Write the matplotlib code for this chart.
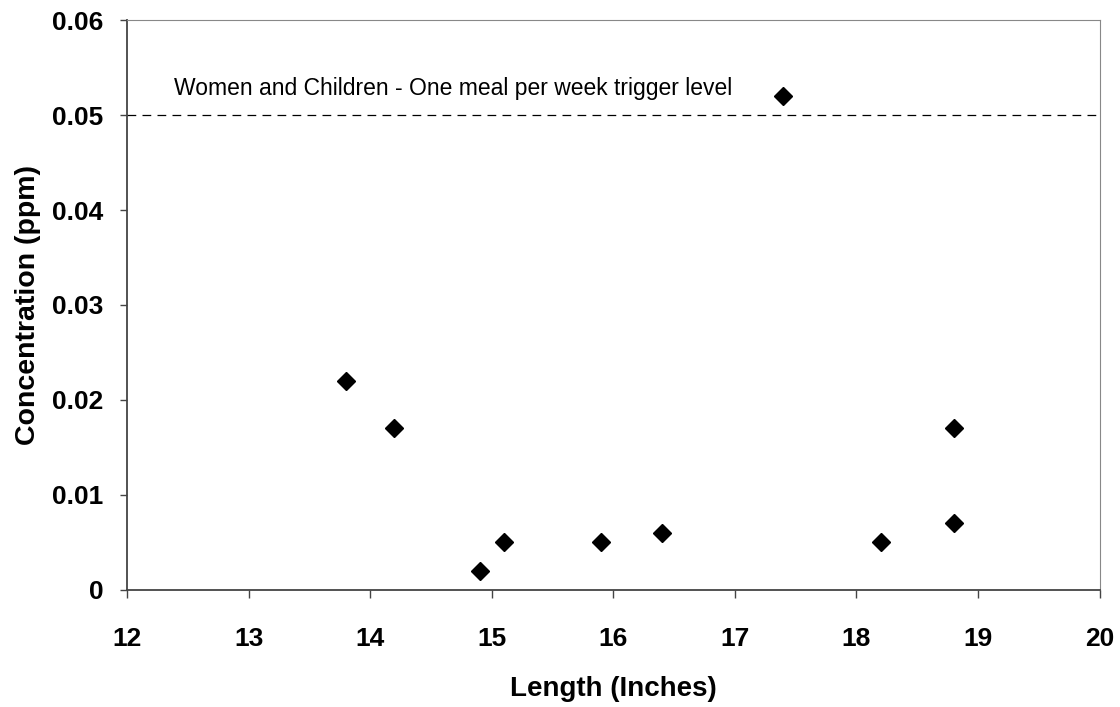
import matplotlib.pyplot as plt

length = [13.8, 14.2, 14.9, 15.1, 15.9, 16.4, 17.4, 18.2, 18.8, 18.8]
conc = [0.022, 0.017, 0.002, 0.005, 0.005, 0.006, 0.052, 0.005, 0.017, 0.007]
trigger = 0.05
trigger_label = "Women and Children - One meal per week trigger level"

plt.rcParams['font.family'] = ['Liberation Sans', 'DejaVu Sans']

fig = plt.figure(figsize=(11.2, 7.07), dpi=100)
ax = fig.add_axes([0.1134, 0.1655, 0.8683, 0.8062])

ax.plot(length, conc, 'D', color='black', markersize=9, linestyle='none', clip_on=False)
ax.axhline(y=trigger, color='black', linestyle=(0, (7, 5)), linewidth=0.9)
ax.text(12.39, 0.0528, trigger_label, fontsize=16.5, va='center', ha='left')

ax.set_xlim(12, 20)
ax.set_ylim(0, 0.06)
ax.set_xticks(range(12, 21))
ax.set_yticks([0, 0.01, 0.02, 0.03, 0.04, 0.05, 0.06])
ax.set_yticklabels(['0', '0.01', '0.02', '0.03', '0.04', '0.05', '0.06'])

for lbl in ax.get_xticklabels() + ax.get_yticklabels():
    lbl.set_fontweight('bold')
    lbl.set_fontsize(19)
ax.tick_params(axis='x', direction='out', length=5.5, width=1, pad=21, color='#444444')
ax.tick_params(axis='y', direction='out', length=5, width=1, pad=12, color='#444444')

ax.set_xlabel("Length (Inches)", fontsize=20, fontweight='bold', labelpad=18)
ax.set_ylabel("Concentration (ppm)", fontsize=20.5, fontweight='bold', labelpad=8)

ax.spines['left'].set_color('#444444')
ax.spines['bottom'].set_color('#444444')
ax.spines['left'].set_linewidth(1.3)
ax.spines['bottom'].set_linewidth(1.3)
ax.spines['top'].set_color('#888888')
ax.spines['right'].set_color('#888888')

plt.savefig('out.png')
